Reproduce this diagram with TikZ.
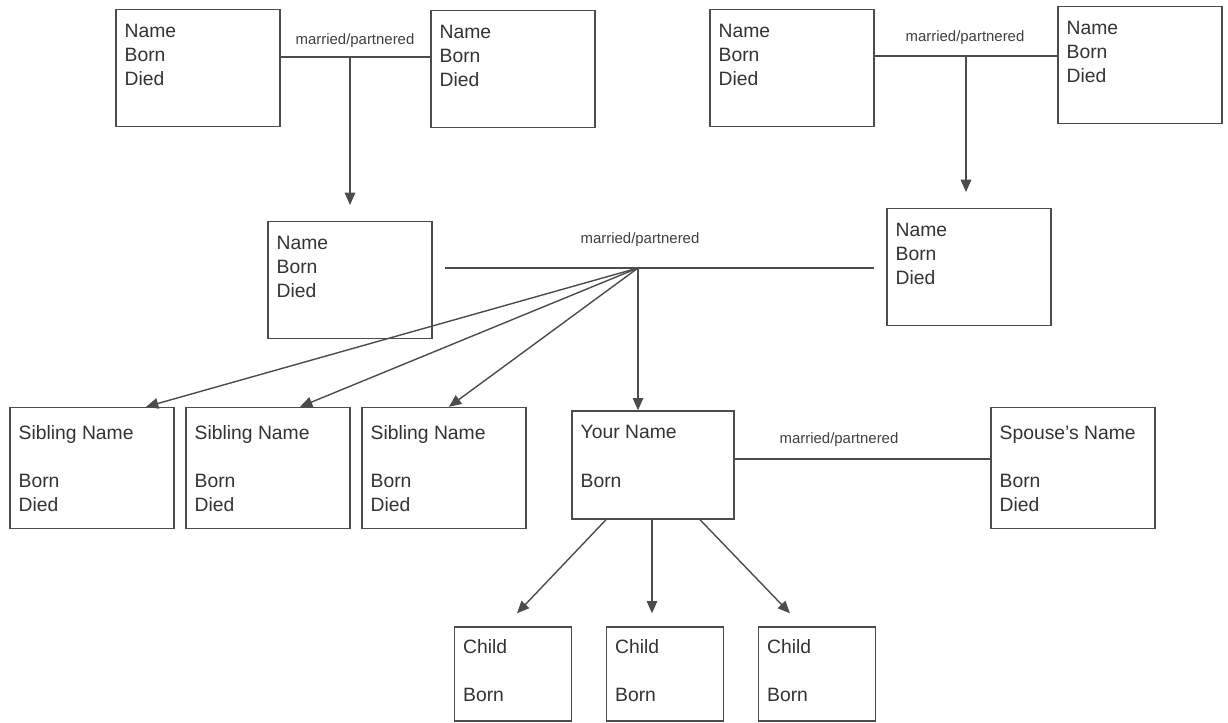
\documentclass[tikz,border=0pt]{standalone}
\usepackage{fontspec}
\setmainfont{Liberation Sans}
\usetikzlibrary{arrows.meta,calc}

\begin{document}
\begin{tikzpicture}[x=0.02cm, y=-0.02cm,
    person/.style={draw=black!70, line width=0.8pt, minimum width=3.28cm, minimum height=2.34cm, inner sep=0pt},
    sibbox/.style={person, minimum height=2.42cm},
    youbox/.style={person, minimum width=3.24cm, minimum height=2.16cm},
    childbox/.style={person, minimum width=2.34cm, minimum height=1.88cm},
    info/.style={anchor=north west, inner sep=0pt, xshift=0.18cm, yshift=-0.3cm, align=left, font=\fontsize{11}{13.7}\selectfont, text=black!80},
    wedlabel/.style={font=\fontsize{8.5}{10}\selectfont, text=black!75},
    link/.style={draw=black!70, line width=0.8pt},
    arr/.style={link, -{Triangle[width=6pt,length=7pt]}}]
    \useasboundingbox (0,0) rectangle (1228,723);
    \node[person, label={[info]north west:Name\\Born\\Died}] (gp1) at (198,68) {};
    \node[person, label={[info]north west:Name\\Born\\Died}] (gp2) at (513,69) {};
    \node[person, label={[info]north west:Name\\Born\\Died}] (gp3) at (792,68) {};
    \node[person, label={[info]north west:Name\\Born\\Died}] (gp4) at (1140,65) {};
    \node[person, label={[info]north west:Name\\Born\\Died}] (par1) at (350,280) {};
    \node[person, label={[info]north west:Name\\Born\\Died}] (par2) at (969,267) {};

    \node[sibbox, label={[info, yshift=-0.07cm]north west:Sibling Name\\[13.7pt]Born\\Died}] (sib1) at (92,468) {};
    \node[sibbox, label={[info, yshift=-0.07cm]north west:Sibling Name\\[13.7pt]Born\\Died}] (sib2) at (268,468) {};
    \node[sibbox, label={[info, yshift=-0.07cm]north west:Sibling Name\\[13.7pt]Born\\Died}] (sib3) at (444,468) {};
    \node[sibbox, label={[info, yshift=-0.07cm]north west:Spouse's Name\\[13.7pt]Born\\Died}] (spouse) at (1073,468) {};
    \node[youbox, label={[info]north west:Your Name\\[13.7pt]Born}] (you) at (653,465) {};

    \node[childbox, label={[info, yshift=0.04cm]north west:Child\\[13.7pt]Born}] (c1) at (513,674) {};
    \node[childbox, label={[info, yshift=0.04cm]north west:Child\\[13.7pt]Born}] (c2) at (665,674) {};
    \node[childbox, label={[info, yshift=0.04cm]north west:Child\\[13.7pt]Born}] (c3) at (817,674) {};

    \coordinate (m1) at (350,57);
    \coordinate (m2) at (966,56);
    \coordinate (m3) at (638,268);
    \draw[link] (gp1.east |- m1) -- (gp2.west |- m1);
    \draw[link] (gp3.east |- m2) -- (gp4.west |- m2);
    \draw[arr, shorten >=9pt] (m1) -- (m1 |- par1.north);
    \draw[arr, shorten >=9pt] (m2) -- (m2 |- par2.north);
    \node[wedlabel] (w1) at (355,41) {married/partnered};
    \node[wedlabel] (w2) at (965,38) {married/partnered};

    \draw[link, shorten <=7pt, shorten >=7pt] (par1.east |- m3) -- (par2.west |- m3);
    \node[wedlabel] (w3) at (640,240) {married/partnered};
    \draw[arr] (m3) -- ($(sib1.north)+(54,0)$);
    \draw[arr] (m3) -- ($(sib2.north)+(32,0)$);
    \draw[arr] (m3) -- ($(sib3.north)+(5,0)$);
    \draw[arr] (m3) -- (m3 |- you.north);

    \draw[link] ([yshift=3.4pt]you.east) -- ([yshift=3.4pt]you.east -| spouse.west);
    \node[wedlabel] (w4) at (839,440) {married/partnered};

    \draw[arr] ($(you.south)+(-47,0)$) -- ($(c1.north)+(4,-13)$);
    \draw[arr] ($(you.south)+(-1,0)$) -- ($(c2.north)+(-13,-13)$);
    \draw[arr] ($(you.south)+(47,0)$) -- ($(c3.north)+(-27,-13)$);
\end{tikzpicture}
\end{document}
